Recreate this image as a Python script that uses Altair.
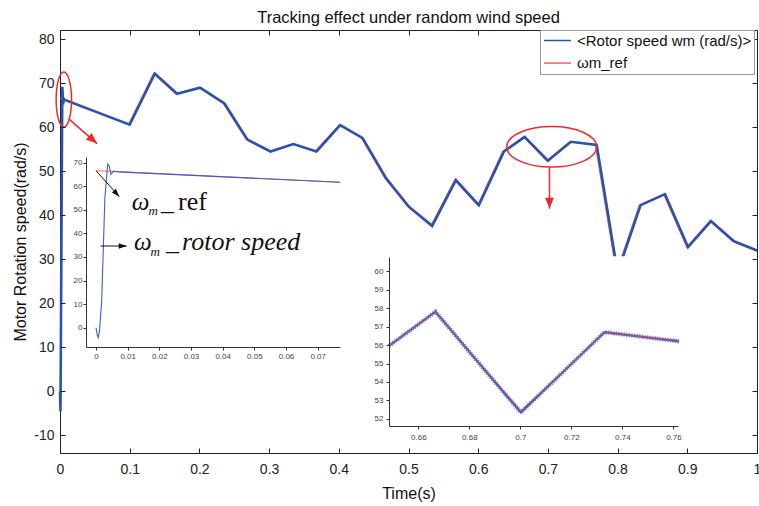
import altair as alt
import pandas as pd

BLUE = "#2a52b0"
RED = "#f06464"
ARED = "#ee2a2a"
SANS = "Liberation Sans"
SERIF = "Liberation Serif"

ROT = "<Rotor speed wm (rad/s)>"
REF = "ωm_ref"

# ---------------- main series ----------------
rot_t = [0, 0.0007, 0.0033, 0.0045, 0.0055, 0.007, 0.1, 0.136, 0.168, 0.201, 0.236, 0.269,
         0.302, 0.335, 0.368, 0.402, 0.434, 0.468, 0.501, 0.534, 0.568, 0.601, 0.637, 0.6667,
         0.7, 0.733, 0.77, 0.8, 0.833, 0.868, 0.901, 0.934, 0.967, 1.0]
rot_v = [0, -4.5, 69.2, 65.2, 66.5, 66.2, 60.6, 72.2, 67.6, 69.0, 65.4, 57.2,
         54.5, 56.2, 54.5, 60.5, 57.6, 48.4, 41.9, 37.6, 48.0, 42.3, 54.5, 57.8,
         52.4, 56.7, 56.0, 27.0, 42.3, 44.8, 32.8, 38.7, 34.1, 32.0]
ref_t = [0, 0.006, 0.098, 0.134, 0.166, 0.199, 0.234, 0.267, 0.300, 0.333, 0.366, 0.400,
         0.432, 0.466, 0.499, 0.532, 0.566, 0.599, 0.635, 0.665, 0.698, 0.731, 0.768, 0.798,
         0.831, 0.866, 0.899, 0.932, 0.965, 1.0]
ref_v = [66.6, 66.4, 60.6, 72.2, 67.6, 69.0, 65.4, 57.2, 54.5, 56.2, 54.5, 60.5,
         57.6, 48.4, 41.9, 37.6, 48.0, 42.3, 54.5, 57.8, 52.4, 56.7, 56.0, 27.0,
         42.3, 44.8, 32.8, 38.7, 34.1, 31.9]

# ---------------- inset 1 (start-up) ----------------
in1_rot_t = [0, 0.0004, 0.0007, 0.0011, 0.0018, 0.0028, 0.0037, 0.0042, 0.0047, 0.0055, 0.0070, 0.077]
in1_rot_v = [0, -3.0, -4.2, -1.5, 11.7, 55.0, 69.4, 68.5, 65.0, 66.4, 66.1, 61.7]
in1_ref_t = [0, 0.006, 0.077]
in1_ref_v = [66.6, 66.3, 61.7]

# ---------------- inset 2 (zoom 0.65-0.76) ----------------
in2_t = [0.6485, 0.6667, 0.7002, 0.733, 0.7622]
in2_rot_v = [55.95, 57.8, 52.35, 56.7, 56.2]
in2_ref_v = [55.95, 57.75, 52.45, 56.65, 56.25]

# ticks
main_x_ticks = [0, 0.1, 0.2, 0.3, 0.4, 0.5, 0.6, 0.7, 0.8, 0.9, 1]
main_y_ticks = [-10, 0, 10, 20, 30, 40, 50, 60, 70, 80]
in1_x_ticks = [0, 0.01, 0.02, 0.03, 0.04, 0.05, 0.06, 0.07]
in1_y_ticks = [0, 10, 20, 30, 40, 50, 60, 70]
in2_x_ticks = [0.66, 0.68, 0.7, 0.72, 0.74, 0.76]
in2_y_ticks = [52, 53, 54, 55, 56, 57, 58, 59, 60]

# annotations (main coordinates)
ell1 = {"t": [0.0055], "v": [66.3]}
ell2 = {"t": [0.7055], "v": [55.55]}
red_arrows = {"t": [0.0134, 0.7023], "v": [61.8, 51.0],
              "t2": [0.0532, 0.7023], "v2": [56.3, 41.5], "ang": [131, 180]}
# annotations (inset 1 coordinates)
blk_arrows = {"t": [0.0, 0.00148], "v": [66.6, 34.66],
              "t2": [0.00736, 0.00969], "v2": [55.6, 34.66], "ang": [138, 90]}
txt_it = {"t": [0.01127, 0.01658, 0.01200, 0.01721, 0.02210, 0.02716],
          "v": [49.94, 47.82, 32.97, 30.42, 32.97, 32.97],
          "txt": ["ω", "m", "ω", "m", "_", "rotor speed"],
          "s": [25, 13, 25, 13, 26, 26]}
txt_up = {"t": [0.02052, 0.02589], "v": [49.94, 49.94], "txt": ["_", "ref"], "s": [26, 26]}

W, H = 697, 423

rot_df = pd.DataFrame({"t": rot_t, "v": rot_v, "series": ROT})
ref_df = pd.DataFrame({"t": ref_t, "v": ref_v, "series": REF})

MX = alt.Scale(domain=[0, 1], nice=False, zero=False)
MY = alt.Scale(domain=[-14, 82.1], nice=False, zero=False)
I1X = alt.Scale(domain=[-0.00316, 0.07704], range=[26, 280], nice=False, zero=False)
I1Y = alt.Scale(domain=[-8.19, 72.42], range=[317, 127], nice=False, zero=False)
I2X = alt.Scale(domain=[0.6485, 0.7618], range=[329, 618], nice=False, zero=False)
I2Y = alt.Scale(domain=[51.62, 60.76], range=[396, 227], nice=False, zero=False)

LBL = "'' + datum.value"

X_AX = alt.Axis(orient="bottom", values=main_x_ticks, labelExpr=LBL, offset=-5, tickSize=5,
                domain=False, grid=False, title="Time(s)", titleFontSize=16,
                titleFontWeight="normal", titlePadding=9, labelFontSize=14, labelPadding=9,
                labelColor="#222", tickColor="#222", labelFlush=False, labelOverlap=False,
                zindex=1)
Y_AX = alt.Axis(orient="left", values=main_y_ticks, labelExpr=LBL, offset=-5, tickSize=5,
                domain=False, grid=False, title="Motor Rotation speed(rad/s)", titleFontSize=16,
                titleFontWeight="normal", titlePadding=5, labelFontSize=14, labelPadding=6,
                labelColor="#222", tickColor="#222", labelOverlap=False, zindex=1)
T_AX = alt.Axis(orient="top", values=main_x_ticks, offset=-5, tickSize=5, labels=False,
                domain=False, grid=False, title=None, tickColor="#222", zindex=1)
R_AX = alt.Axis(orient="right", values=main_y_ticks, offset=-5, tickSize=5, labels=False,
                domain=False, grid=False, title=None, tickColor="#222", zindex=1)


def inset_axis(orient, values, offset, pad):
    return alt.Axis(orient=orient, values=values, labelExpr=LBL, offset=offset, tickSize=3,
                    domain=True, grid=False, title=None, labelFontSize=8, labelPadding=pad,
                    labelColor="#444", tickColor="#333", domainColor="#333",
                    labelFlush=False, labelOverlap=False, zindex=1)


I1X_AX = inset_axis("bottom", in1_x_ticks, -106, 2)
I1Y_AX = inset_axis("left", in1_y_ticks, -26, 1)
I2X_AX = inset_axis("bottom", in2_x_ticks, -27, 4)
I2Y_AX = inset_axis("left", in2_y_ticks, -329, 3)

COLOR = alt.Color(
    "series:N",
    scale=alt.Scale(domain=[ROT, REF], range=[BLUE, RED]),
    legend=alt.Legend(orient="none", legendX=480, legendY=0, title=None,
                      symbolType="M-0.93,0L2.93,0", symbolSize=196, symbolStrokeWidth=1.5,
                      labelFontSize=15, labelFont=SANS, labelColor="#111", padding=2.5,
                      rowPadding=6.6, labelOffset=18.5, fillColor="white", strokeColor="#999",
                      labelLimit=400, zindex=1, cornerRadius=0),
)


def mx(f="t"):
    return alt.X(f + ":Q", scale=MX, axis=X_AX)


def my(f="v"):
    return alt.Y(f + ":Q", scale=MY, axis=Y_AX)


# ---------------- main group ----------------
ref_line = alt.Chart(ref_df).mark_line(strokeWidth=1.1).encode(x=mx(), y=my(), color=COLOR)
rot_line = alt.Chart(rot_df).mark_line(strokeWidth=2.6).encode(x=mx(), y=my(), color=COLOR)

ELL1 = "M0,-1 A0.28,1 0 1,0 0,1 A0.28,1 0 1,0 0,-1 Z"
ELL2 = "M-1,0 A1,0.45 0 1,0 1,0 A1,0.45 0 1,0 -1,0 Z"
e1 = alt.Chart(pd.DataFrame(ell1)).mark_point(shape=ELL1, size=3025, filled=False, color=ARED,
                                              strokeWidth=1.5, opacity=1).encode(x=mx(), y=my())
e2 = alt.Chart(pd.DataFrame(ell2)).mark_point(shape=ELL2, size=8100, filled=False, color=ARED,
                                              strokeWidth=1.5, opacity=1).encode(x=mx(), y=my())
ra = pd.DataFrame(red_arrows)
ra_line = alt.Chart(ra).mark_rule(color=ARED, strokeWidth=1.5).encode(
    x=mx(), y=my(), x2="t2:Q", y2="v2:Q")
HEAD = "M0,0 L0.4,1 L-0.4,1 Z"
ra_head = alt.Chart(ra).mark_point(shape=HEAD, size=484, filled=True, color=ARED, opacity=1,
                                   strokeWidth=0).encode(
    x=mx("t2"), y=my("v2"), angle=alt.Angle("ang:Q", scale=None))

main = alt.layer(ref_line, rot_line, e1, e2, ra_line, ra_head)

# ---------------- frame ticks (top / right) ----------------
frame = alt.Chart(rot_df).mark_point(opacity=0).encode(
    x=alt.X("t:Q", scale=MX, axis=T_AX), y=alt.Y("v:Q", scale=MY, axis=R_AX))

# ---------------- inset 2 ----------------
def i2x(f="t"):
    return alt.X(f + ":Q", scale=I2X, axis=I2X_AX)


def i2y(f="v"):
    return alt.Y(f + ":Q", scale=I2Y, axis=I2Y_AX)


i2_rot_df = pd.DataFrame({"t": in2_t, "v": in2_rot_v})
bg = alt.Chart(pd.DataFrame({"t": [0.6352], "t2": [0.7918], "v": [50.86], "v2": [60.8]})).mark_rect(
    color="white", opacity=1).encode(x=i2x(), x2="t2:Q", y=i2y(), y2="v2:Q")
i2_rot = alt.Chart(i2_rot_df).mark_line(
    color="#3a5fc0", strokeWidth=2.2).encode(x=i2x(), y=i2y())
i2_fuzz = alt.Chart(i2_rot_df).mark_line(
    color="#4a6ccc", strokeWidth=4.5, strokeDash=[1.2, 1.4], opacity=0.75).encode(x=i2x(), y=i2y())
i2_ref = alt.Chart(pd.DataFrame({"t": in2_t, "v": in2_ref_v})).mark_line(
    color="#e8405a", strokeWidth=1).encode(x=i2x(), y=i2y())
inset2 = alt.layer(bg, i2_rot, i2_fuzz, i2_ref)

# ---------------- inset 1 ----------------
def i1x(f="t"):
    return alt.X(f + ":Q", scale=I1X, axis=I1X_AX)


def i1y(f="v"):
    return alt.Y(f + ":Q", scale=I1Y, axis=I1Y_AX)


i1_ref = alt.Chart(pd.DataFrame({"t": in1_ref_t, "v": in1_ref_v})).mark_line(
    color=RED, strokeWidth=1).encode(x=i1x(), y=i1y())
i1_rot = alt.Chart(pd.DataFrame({"t": in1_rot_t, "v": in1_rot_v})).mark_line(
    color="#3f5fc8", strokeWidth=1.1).encode(x=i1x(), y=i1y())
ba = pd.DataFrame(blk_arrows)
ba_line = alt.Chart(ba).mark_rule(color="#111", strokeWidth=1).encode(
    x=i1x(), y=i1y(), x2="t2:Q", y2="v2:Q")
ba_head = alt.Chart(ba).mark_point(shape="M0,0 L0.35,1 L-0.35,1 Z", size=256, filled=True,
                                   color="#111", opacity=1, strokeWidth=0).encode(
    x=i1x("t2"), y=i1y("v2"), angle=alt.Angle("ang:Q", scale=None))
t_it = alt.Chart(pd.DataFrame(txt_it)).mark_text(
    font=SERIF, fontStyle="italic", align="left", baseline="alphabetic", color="#111").encode(
    x=i1x(), y=i1y(), text="txt:N", size=alt.Size("s:Q", scale=None))
t_up = alt.Chart(pd.DataFrame(txt_up)).mark_text(
    font=SERIF, align="left", baseline="alphabetic", color="#111").encode(
    x=i1x(), y=i1y(), text="txt:N", size=alt.Size("s:Q", scale=None))
inset1 = alt.layer(i1_ref, i1_rot, ba_line, ba_head, t_it, t_up)

chart = alt.layer(main, frame, inset2, inset1).resolve_scale(
    x="independent", y="independent"
).properties(
    width=W, height=H,
    padding={"left": 60, "top": 30, "right": 2, "bottom": 53},
    autosize=alt.AutoSizeParams(type="none"),
    title=alt.Title("Tracking effect under random wind speed", fontSize=16.5, font=SANS,
                    fontWeight="normal", anchor="middle", baseline="alphabetic", offset=7.5,
                    dy=17.5, frame="group", color="#111"),
).configure(
    font=SANS, background="white"
).configure_view(
    stroke="#222", strokeWidth=1
).configure_axis(
    labelFont=SANS, titleFont=SANS, titleColor="#111"
)

chart.save("out.html", embed_options={"renderer": "svg", "actions": False})
